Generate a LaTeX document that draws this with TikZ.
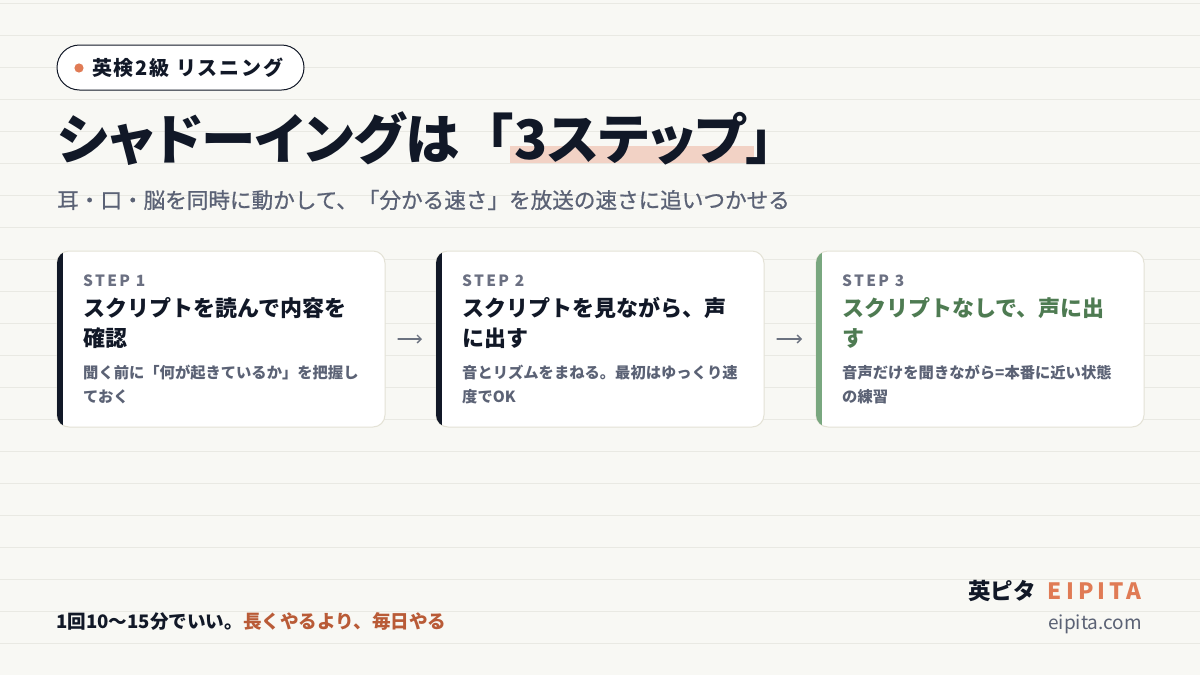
\documentclass[tikz,border=0pt]{standalone}
\usepackage{fontspec}
\setmainfont{Noto Sans CJK JP}
\usetikzlibrary{arrows.meta}
\definecolor{paper}{HTML}{F8F8F4}
\definecolor{ruleln}{HTML}{E9E9E3}
\definecolor{ink}{HTML}{111827}
\definecolor{slate}{HTML}{5B6275}
\definecolor{stepgray}{HTML}{6B7082}
\definecolor{cardln}{HTML}{E4E2D6}
\definecolor{leaf}{HTML}{79A77F}
\definecolor{leafdark}{HTML}{4E7B52}
\definecolor{coral}{HTML}{E07B55}
\definecolor{rust}{HTML}{B95B37}
\definecolor{hilite}{HTML}{F2D2C5}
\definecolor{arrowgray}{HTML}{6B7280}
\newcommand\fsz[1]{\fontsize{#1}{#1}\selectfont}
\pgfdeclarelayer{back}
\pgfdeclarelayer{mark}
\pgfsetlayers{back,mark,main}
\begin{document}
\begin{tikzpicture}[x=1pt, y=-1pt, line join=round, line cap=round,
	card/.style={draw=cardln, line width=1pt, fill=white, rounded corners=12pt, anchor=north west, minimum width=328pt, minimum height=176pt, inner sep=0pt, outer sep=0pt},
	titletxt/.style={anchor=base west, inner sep=0pt, text=ink, font=\bfseries\fsz{54.5}},
	kana/.style={font=\bfseries\fsz{54.5}\addfontfeature{CharacterWidth=AlternateProportional}},
	steptag/.style={anchor=base west, inner sep=0pt, text=stepgray, font=\bfseries\fsz{15.5}\addfontfeature{LetterSpace=15}},
	head/.style={anchor=base west, inner sep=0pt, align=left, font=\bfseries\fontsize{22}{30}\selectfont},
	desc/.style={anchor=base west, inner sep=0pt, align=left, text=slate, font=\bfseries\fontsize{15.3}{23.5}\selectfont},
	flow/.style={arrowgray, line width=1.3pt, -{Straight Barb[length=4pt,width=8pt]}, shorten <=13pt, shorten >=14pt}]
	\useasboundingbox (0,0) rectangle (1200,675);
	\begin{pgfonlayer}{back}
	\fill[paper] (0,0) rectangle (1200,675);
	\foreach \k in {0,...,20}
	\draw[ruleln, line width=1pt] (0,{3+32*\k}) -- (1200,{3+32*\k});
	\end{pgfonlayer}
	\draw[ink, line width=1pt, fill=white, rounded corners=22.5pt] (57,45) rectangle (304,90);
	\fill[coral] (79,68) circle (4.6);
	\node[anchor=west, inner sep=0pt, text=ink, font=\bfseries\fsz{20}\addfontfeature{LetterSpace=9}] (tag) at (92,68) {英検2級 リスニング};
	\node[titletxt, kana] (titleA) at (57,159) {シャドーイングは};
	\node[titletxt] (titleB) at (titleA.base east) {「};
	\node[titletxt, kana] (titleC) at (titleB.base east) {3ステップ};
	\node[titletxt] (titleD) at (titleC.base east) {」};
	\begin{pgfonlayer}{mark}
	\fill[hilite] ([xshift=-4pt,yshift=13pt]titleC.base west) rectangle ([xshift=8pt,yshift=-4pt]titleC.base east);
	\end{pgfonlayer}
	\node[anchor=west, inner sep=0pt, text=slate, font=\fsz{21.6}\addfontfeature{FakeBold=0.8}] (sub) at (57,200) {耳・口・脳を同時に動かして、「分かる速さ」を放送の速さに追いつかせる};
	\foreach \i/\x/\bar/\hc/\head/\desc in {
		1/57/ink/ink/{スクリプトを読んで内容を\\確認}/{聞く前に「何が起きているか」を把握し\\ておく},
		2/436/ink/ink/{スクリプトを見ながら、声\\に出す}/{音とリズムをまねる。最初はゆっくり速\\度でOK},
		3/816/leaf/leafdark/{スクリプトなしで、声に出\\す}/{音声だけを聞きながら=本番に近い状態\\の練習}}{
		\node[card] (card\i) at (\x,251) {};
		\begin{scope}
			\clip[rounded corners=12pt] (card\i.north west) rectangle (card\i.south east);
			\fill[\bar] (card\i.north west) rectangle ([xshift=5.5pt]card\i.south west);
		\end{scope}
		\node[steptag] (step\i) at (\x+26,286) {STEP \i};
		\node[head, text=\hc] (head\i) at (\x+26,346) {\head};
		\node[desc] (desc\i) at (\x+26,402) {\desc};
	}
	\foreach \a/\b in {1/2,2/3}
	\draw[flow] (card\a) -- (card\b);
	\node[anchor=base west, inner sep=0pt, text=ink, font=\bfseries\fsz{18.6}] (note) at (56,628) {1回10〜15分でいい。\textcolor{rust}{長くやるより、毎日やる}};
	\node[anchor=base east, inner sep=0pt, text=ink, font=\bfseries\fsz{22.5}] (brand) at (1142,599) {英ピタ\hspace{12pt}\textcolor{coral}{\addfontfeature{LetterSpace=18}EIPITA}};
	\node[anchor=base east, inner sep=0pt, text=slate, font=\fsz{19}] (site) at (1142,629) {eipita.com};
\end{tikzpicture}
\end{document}
